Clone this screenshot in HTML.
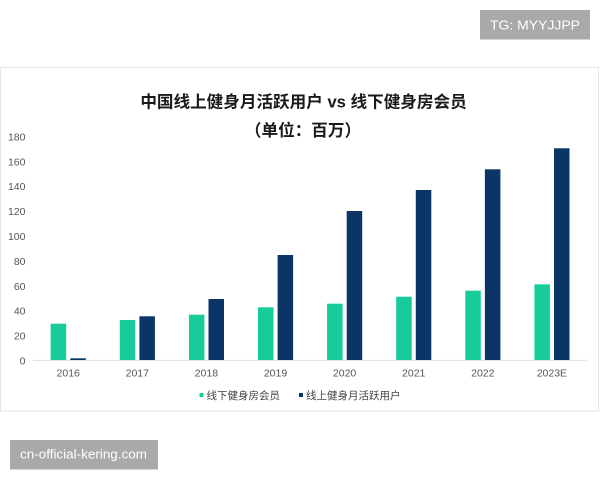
<!DOCTYPE html>
<html>
<head>
<meta charset="utf-8">
<style>
  html, body { margin:0; padding:0; background:#ffffff; }
  svg { display:block; }
  .cjk { font-family: "Liberation Sans", "Noto Sans CJK SC", sans-serif; }
  .num { font-family: "Liberation Sans", sans-serif; }
</style>
</head>
<body>
<svg width="600" height="480" viewBox="0 0 600 480" xmlns="http://www.w3.org/2000/svg">
  <rect x="0" y="0" width="600" height="480" fill="#ffffff"/>

  <!-- TG watermark -->
  <rect x="480" y="10" width="110" height="29.5" fill="#a9a9a9"/>
  <text x="490" y="29.5" class="num" font-size="13" fill="#ffffff" textLength="90" lengthAdjust="spacingAndGlyphs">TG: MYYJJPP</text>

  <!-- chart panel -->
  <rect x="0.5" y="67.5" width="598" height="343.5" fill="#ffffff" stroke="#e6e6e6" stroke-width="1"/>

  <!-- title -->
  <text x="303.5" y="107.5" class="cjk" font-size="16.6" font-weight="bold" fill="#1a1a1a" text-anchor="middle">中国线上健身月活跃用户 vs 线下健身房会员</text>
  <text x="303" y="136" class="cjk" font-size="16.6" font-weight="bold" fill="#1a1a1a" text-anchor="middle">（单位：百万）</text>

  <!-- y-axis labels -->
  <g class="num" font-size="10.5" fill="#555555" text-anchor="end">
    <text x="25.5" y="364.5">0</text>
    <text x="25.5" y="339.6">20</text>
    <text x="25.5" y="314.7">40</text>
    <text x="25.5" y="289.8">60</text>
    <text x="25.5" y="264.9">80</text>
    <text x="25.5" y="240">100</text>
    <text x="25.5" y="215.1">120</text>
    <text x="25.5" y="190.2">140</text>
    <text x="25.5" y="165.3">160</text>
    <text x="25.5" y="140.4">180</text>
  </g>

  <!-- axis line -->
  <line x1="33" y1="360.5" x2="587" y2="360.5" stroke="#e2e2e2" stroke-width="1.2"/>

  <!-- bars: green -->
  <g fill="#17cc9a">
    <rect x="50.7"  y="323.7" width="15.5" height="36.3"/>
    <rect x="119.8" y="320"   width="15.5" height="40"/>
    <rect x="188.9" y="314.7" width="15.5" height="45.3"/>
    <rect x="258"   y="307.3" width="15.5" height="52.7"/>
    <rect x="327.1" y="303.7" width="15.5" height="56.3"/>
    <rect x="396.2" y="296.7" width="15.5" height="63.3"/>
    <rect x="465.3" y="290.7" width="15.5" height="69.3"/>
    <rect x="534.4" y="284.3" width="15.5" height="75.7"/>
  </g>
  <!-- bars: navy -->
  <g fill="#0b3566">
    <rect x="70.3"  y="358.3" width="15.5" height="1.7"/>
    <rect x="139.4" y="316.3" width="15.5" height="43.7"/>
    <rect x="208.5" y="299"   width="15.5" height="61"/>
    <rect x="277.6" y="255"   width="15.5" height="105"/>
    <rect x="346.7" y="211"   width="15.5" height="149"/>
    <rect x="415.8" y="190"   width="15.5" height="170"/>
    <rect x="484.9" y="169.3" width="15.5" height="190.7"/>
    <rect x="554"   y="148.3" width="15.5" height="211.7"/>
  </g>

  <!-- x-axis labels -->
  <g class="num" font-size="10.5" fill="#555555" text-anchor="middle">
    <text x="68.2"  y="376.3">2016</text>
    <text x="137.3" y="376.3">2017</text>
    <text x="206.4" y="376.3">2018</text>
    <text x="275.5" y="376.3">2019</text>
    <text x="344.6" y="376.3">2020</text>
    <text x="413.7" y="376.3">2021</text>
    <text x="482.8" y="376.3">2022</text>
    <text x="551.9" y="376.3">2023E</text>
  </g>

  <!-- legend -->
  <rect x="199.5" y="393" width="4" height="4" fill="#17cc9a"/>
  <text x="206.5" y="399" class="cjk" font-size="10.5" fill="#444444">线下健身房会员</text>
  <rect x="299" y="393" width="4" height="4" fill="#0b3566"/>
  <text x="306" y="399" class="cjk" font-size="10.5" fill="#444444">线上健身月活跃用户</text>

  <!-- bottom watermark -->
  <rect x="10" y="440" width="148" height="29.5" fill="#a9a9a9"/>
  <text x="20" y="458.5" class="num" font-size="13" fill="#ffffff" textLength="127" lengthAdjust="spacingAndGlyphs">cn-official-kering.com</text>
</svg>
</body>
</html>
